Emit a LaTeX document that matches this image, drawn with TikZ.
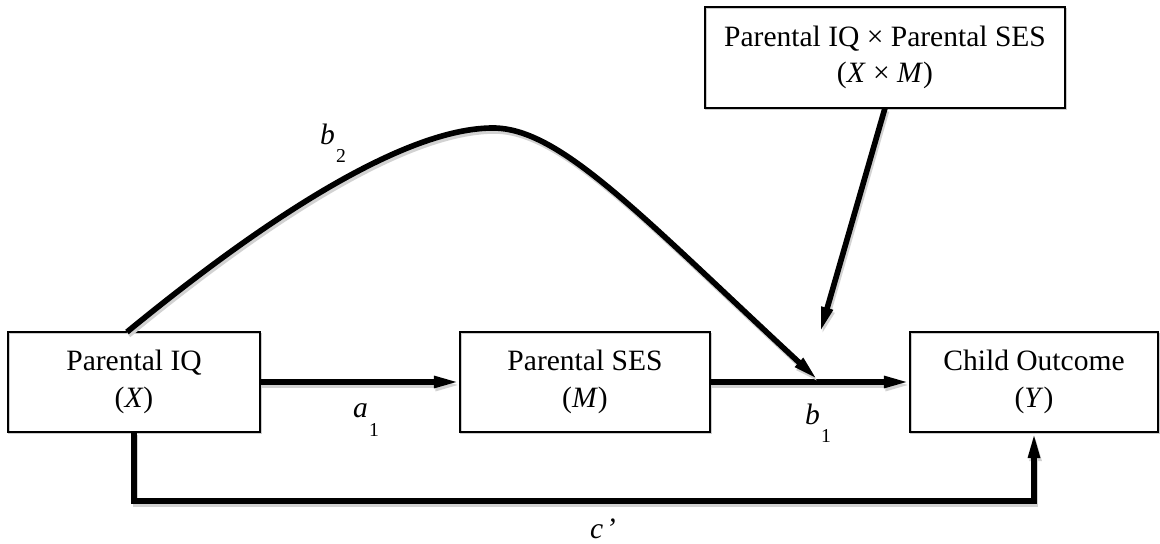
\documentclass[tikz,border=0pt]{standalone}
\usepackage{fontspec}
\setmainfont{Liberation Serif}
\usetikzlibrary{arrows.meta,calc}
\begin{document}
\begin{tikzpicture}[x=0.025cm,y=-0.025cm,
  box/.style={draw, line width=0.8pt, inner sep=0pt, outer sep=0pt, align=center,
    font=\fontsize{21}{26}\selectfont,
    preaction={draw=gray!40, line width=0.8pt, transform canvas={shift={(1,1.5)}}}},
  wire/.style={line width=4pt,
    preaction={draw=gray!35, line width=4pt, transform canvas={shift={(1.5,3)}}}},
  conn/.style={wire, -{Triangle[length=0.65cm,width=0.27cm]}},
  lab/.style={inner sep=0pt, outer sep=0pt, anchor=base west, font=\fontsize{21}{24}\selectfont}
]
\useasboundingbox (0,0) rectangle (1160,544);

\node[box, minimum width=6.3cm, minimum height=2.5cm] (X) at (134,382) {Parental IQ\\(\textit{X})};
\node[box, minimum width=6.25cm, minimum height=2.5cm] (M) at (585,382) {Parental SES\\(\textit{M})};
\node[box, minimum width=6.2cm, minimum height=2.5cm] (Y) at (1034,382) {Child Outcome\\(\textit{Y})};
\node[box, minimum width=9cm, minimum height=2.525cm] (XM) at (885,57.5) {Parental IQ × Parental SES\\(\textit{X} × \textit{M})};

\coordinate (b2tip) at (818,380);
\coordinate (xmtip) at (820,333);

\draw[conn] (X.east) -- (M.west);
\draw[conn] (M.east) -- (Y.west);
\draw[conn] (X.south) -- ++(0,69) -| (Y.south);
\draw[conn] (XM.south) -- (xmtip);
\draw[conn] ($(X.north)+(-7,0)$) .. controls (300,190) and (420,128) .. (493,128)
  .. controls (560,128) and (640,215) .. (b2tip);

\node[lab] (lb2) at (320,145) {\textit{b}\kern1pt\raisebox{-0.425cm}{\fontsize{14}{14}\selectfont 2}};
\node[lab] (la1) at (353,418) {\textit{a}\kern1pt\raisebox{-0.47cm}{\fontsize{14}{14}\selectfont 1}};
\node[lab] (lb1) at (805,425) {\textit{b}\kern1pt\raisebox{-0.425cm}{\fontsize{14}{14}\selectfont 1}};
\node[lab] (lc) at (590,539) {\textit{c\kern2pt’}};
\end{tikzpicture}
\end{document}
